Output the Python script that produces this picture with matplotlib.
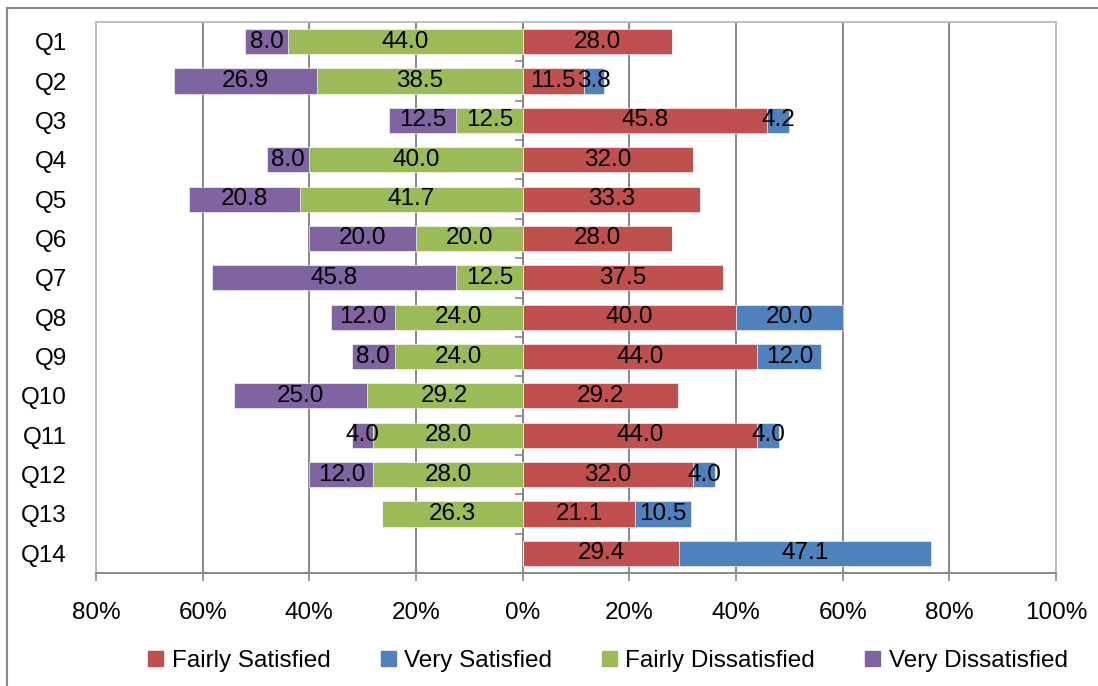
"""Diverging stacked bar chart of satisfaction per question."""

import matplotlib
matplotlib.use("Agg")
import matplotlib.pyplot as plt
from matplotlib.lines import Line2D
from matplotlib.patches import Patch
from matplotlib.ticker import FuncFormatter

plt.rcParams["font.family"] = ["Liberation Sans", "DejaVu Sans"]

questions = [f"Q{i}" for i in range(1, 15)]
fairly_satisfied = [28.0, 11.5, 45.8, 32.0, 33.3, 28.0, 37.5, 40.0, 44.0, 29.2, 44.0, 32.0, 21.1, 29.4]
very_satisfied = [0, 3.8, 4.2, 0, 0, 0, 0, 20.0, 12.0, 0, 4.0, 4.0, 10.5, 47.1]
fairly_dissatisfied = [44.0, 38.5, 12.5, 40.0, 41.7, 20.0, 12.5, 24.0, 24.0, 29.2, 28.0, 28.0, 26.3, 0]
very_dissatisfied = [8.0, 26.9, 12.5, 8.0, 20.8, 20.0, 45.8, 12.0, 8.0, 25.0, 4.0, 12.0, 0, 0]
x_ticks = [-80, -60, -40, -20, 0, 20, 40, 60, 80, 100]

RED = "#C0504D"
BLUE = "#4F81BD"
GREEN = "#9BBB59"
PURPLE = "#8064A2"
GRID = "#888888"
FS = 17.5

fig = plt.figure(figsize=(10.98, 6.86), dpi=100)
ax = fig.add_axes([96 / 1098, 1 - 573 / 686, 960 / 1098, 551 / 686])

y = list(range(len(questions)))
h = 0.64


def seg_labels(vals):
    return [f"{v:.1f}" if v > 0 else "" for v in vals]


neg_fd = [-v for v in fairly_dissatisfied]
neg_vd = [-v for v in very_dissatisfied]

series = [
    (fairly_satisfied, [0] * len(y), RED, fairly_satisfied),
    (very_satisfied, fairly_satisfied, BLUE, very_satisfied),
    (neg_fd, [0] * len(y), GREEN, fairly_dissatisfied),
    (neg_vd, neg_fd, PURPLE, very_dissatisfied),
]
for width, left, color, raw in series:
    bars = ax.barh(y, width, left=left, height=h, color=color,
                   edgecolor="white", linewidth=0.4, zorder=3)
    ax.bar_label(bars, labels=seg_labels(raw), label_type="center",
                 fontsize=FS, color="black", zorder=4)

ax.set_xlim(-80, 100)
ax.set_ylim(len(y) - 0.5, -0.5)
ax.set_xticks(x_ticks)
ax.xaxis.set_major_formatter(FuncFormatter(lambda v, _: f"{abs(v):.0f}%"))
ax.set_yticks(y)
ax.set_yticklabels(questions)
ax.tick_params(axis="y", length=0, pad=21, labelsize=FS)
ax.tick_params(axis="x", direction="out", length=6, width=1.2, color=GRID,
               pad=15, labelsize=FS)
ax.grid(axis="x", color=GRID, linewidth=1.4, zorder=0)

for side in ("top", "left", "right"):
    ax.spines[side].set_color("#BFBFBF")
    ax.spines[side].set_linewidth(1.4)
ax.spines["bottom"].set_color(GRID)
ax.spines["bottom"].set_linewidth(1.4)

# vertical axis at 0 with ticks between categories
zero_frac = (0 - x_ticks[0]) / (x_ticks[-1] - x_ticks[0])
sec = ax.secondary_yaxis(zero_frac)
sec.set_yticks([i + 0.5 for i in y[:-1]])
sec.set_yticklabels([])
sec.tick_params(axis="y", direction="out", length=6, width=1.2, color=GRID)
sec.spines["left"].set_color(GRID)
sec.spines["left"].set_linewidth(1.4)

handles = [Patch(color=RED, label="Fairly Satisfied"),
           Patch(color=BLUE, label="Very Satisfied"),
           Patch(color=GREEN, label="Fairly Dissatisfied"),
           Patch(color=PURPLE, label="Very Dissatisfied")]
fig.legend(handles=handles, loc="center", bbox_to_anchor=(608 / 1098, 1 - 661 / 686),
           ncol=4, frameon=False, fontsize=FS, handlelength=0.62, handleheight=0.62,
           handletextpad=0.35, columnspacing=2.05, borderpad=0, borderaxespad=0)

# outer chart frame
fig.add_artist(Line2D([7 / 1098, 1], [1 - 8 / 686, 1 - 8 / 686], color=GRID, linewidth=1.5))
fig.add_artist(Line2D([7 / 1098, 7 / 1098], [0, 1 - 8 / 686], color=GRID, linewidth=1.5))

fig.savefig("out.png", dpi=100)
